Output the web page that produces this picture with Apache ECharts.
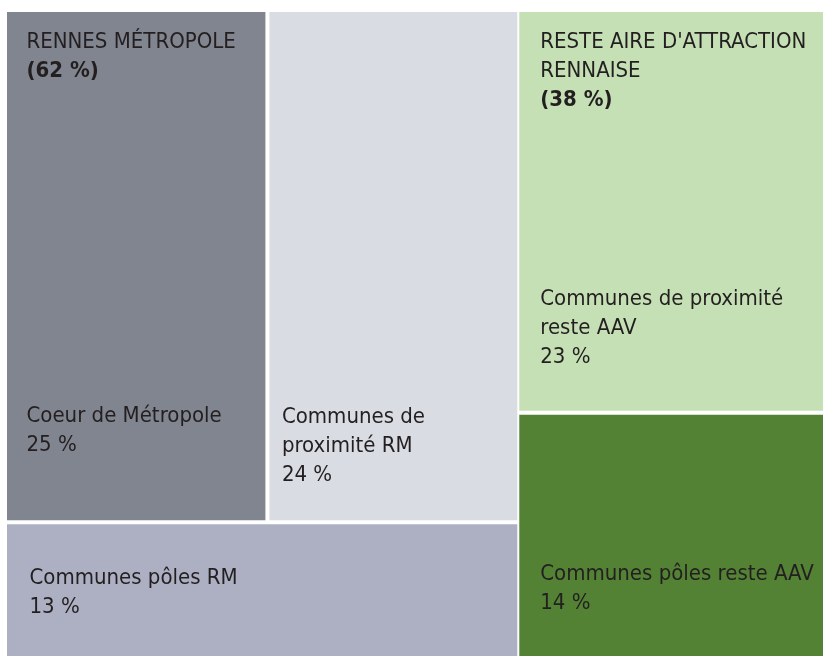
<!DOCTYPE html>
<html>
<head>
<meta charset="UTF-8">
<script src="https://cdn.jsdelivr.net/npm/echarts@6/dist/echarts.min.js"></script>
<style>
	html, body { margin: 0; padding: 0; background: #ffffff; }
	#treemapDiv { width: 823px; height: 656px; }
</style>
</head>
<body>
<div id="treemapDiv"></div>
<script type="text/javascript">
// parts de la population de l'aire d'attraction (%)
var groupNames = ['RENNES MÉTROPOLE', "RESTE AIRE D'ATTRACTION\nRENNAISE"];
var groupShares = [62, 38];

var metroNames = ['Coeur de Métropole', 'Communes de\nproximité RM', 'Communes pôles RM'];
var metroShares = [25, 24, 13];

var resteNames = ['Communes de proximité\nreste AAV', 'Communes pôles reste AAV'];
var resteShares = [23, 14];

var metroColors = ['#80858f', '#d9dce3', '#adb0c3'];
var resteColors = ['#c5e0b4', '#548235'];

var fontFam = "'DejaVu Sans Condensed', sans-serif";
var textColor = '#231f20';
var FS = 22;
var LH = 29;

// where the text sits in each cell: [top, left] padding, and gap under the header
var metroPads = [[15.5, 19.5], [391, 12.5], [39.5, 22.5]];
var restePads = [[15.5, 21], [145, 21]];
var headerGaps = [316, 170];

function lines(style, text) {
	return text.split('\n').map(function (t) {
		return '{' + style + '|' + t + '}';
	}).join('\n');
}

function richFor(gap) {
	return {
		txt: { fontSize: FS, lineHeight: LH, color: textColor, fontFamily: fontFam, align: 'left' },
		hd: { fontSize: FS, lineHeight: LH, color: textColor, fontFamily: fontFam, align: 'left' },
		bold: { fontSize: FS, lineHeight: LH, color: textColor, fontFamily: fontFam, fontWeight: 'bold', align: 'left' },
		sp: { fontSize: 2, lineHeight: gap || 1 }
	};
}

function buildGroup(gi, names, shares, colors, pads) {
	var children = [];
	for (var i = 0; i < names.length; i++) {
		var txt = lines('txt', names[i]) + '\n{txt|' + shares[i] + ' %}';
		var gap = 0;
		if (i === 0) {
			// le titre de l'aire est écrit dans la plus grande case
			var head = lines('hd', groupNames[gi]) + '\n{bold|(' + groupShares[gi] + ' %)}';
			gap = headerGaps[gi];
			txt = head + '\n{sp| }\n' + txt;
		}
		children.push({
			name: names[i].replace('\n', ' '),
			value: shares[i],
			itemStyle: { color: colors[i] },
			label: {
				show: true,
				position: 'insideTopLeft',
				formatter: txt,
				overflow: 'none',
				padding: [pads[i][0], 0, 0, pads[i][1]],
				rich: richFor(gap)
			}
		});
	}
	return {
		name: groupNames[gi].replace('\n', ' '),
		children: children
	};
}

var treeData = [
	buildGroup(0, metroNames, metroShares, metroColors, metroPads),
	buildGroup(1, resteNames, resteShares, resteColors, restePads)
];

var chart = echarts.init(document.getElementById('treemapDiv'));

var option = {
	animation: false,
	series: [{
		type: 'treemap',
		left: 7,
		top: 12,
		right: 0,
		bottom: 0,
		roam: false,
		nodeClick: false,
		breadcrumb: { show: false },
		upperLabel: { show: false },
		itemStyle: { borderColor: '#ffffff', borderWidth: 0, gapWidth: 0 },
		levels: [
			{ itemStyle: { borderWidth: 0, gapWidth: 2 } },
			{ itemStyle: { borderWidth: 0, gapWidth: 4 } },
			{ itemStyle: { borderWidth: 0, gapWidth: 0 } }
		],
		label: { show: true, position: 'insideTopLeft', distance: 0 },
		emphasis: { disabled: true },
		data: treeData
	}]
};

chart.setOption(option);
</script>
</body>
</html>
